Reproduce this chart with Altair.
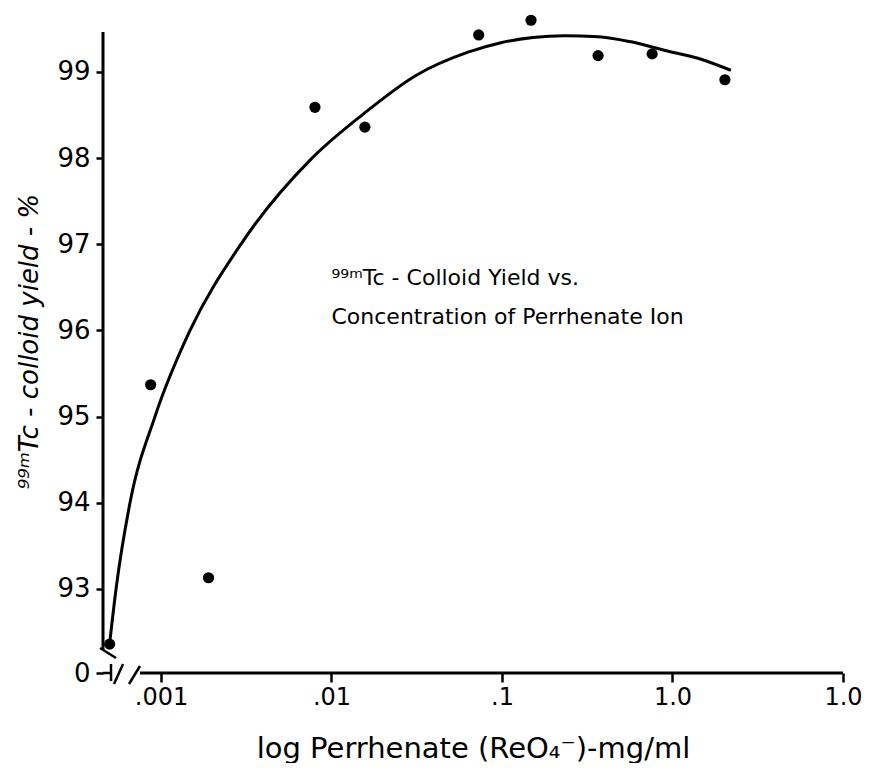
import altair as alt
import pandas as pd

# ---- data ----
point_conc = [0.00050, 0.00087, 0.0019, 0.0080, 0.0157, 0.073, 0.148, 0.366, 0.76, 2.03]
point_yield = [92.36, 95.37, 93.13, 98.59, 98.36, 99.43, 99.60, 99.19, 99.21, 98.91]

curve_conc = [0.000502, 0.000545, 0.000658, 0.000922, 0.00148, 0.00294, 0.00769,
              0.0151, 0.0313, 0.0632, 0.0986, 0.152, 0.234, 0.366, 0.571, 0.904,
              1.41, 2.20]
curve_yield = [92.40, 93.00, 94.00, 95.00, 96.00, 97.00, 98.00,
               98.50, 98.96, 99.23, 99.34, 99.40, 99.42, 99.41, 99.35, 99.25,
               99.16, 99.02]

x_tick_values = [0.001, 0.01, 0.1, 1.0, 10.0]
x_tick_labels = [".001", ".01", ".1", "1.0", "1.0"]
y_tick_values = [92.025, 93, 94, 95, 96, 97, 98, 99]
y_tick_labels = ["0", "93", "94", "95", "96", "97", "98", "99"]

note_lines = ["⁹⁹ᵐTc - Colloid Yield vs.", "Concentration of Perrhenate Ion"]
note_conc = [0.01, 0.01]
note_yield = [96.53, 96.08]

x_title = "log Perrhenate (ReO₄⁻)-mg/ml"
y_title = "⁹⁹ᵐTc - colloid yield - %"

# ---- layout / style ----
X_DOMAIN = [0.000457, 10]
Y_DOMAIN = [92.025, 99.464]
W, H = 740, 641
FONT = "DejaVu Sans"


def label_expr(values, labels, rel):
    expr = "''"
    for v, l in reversed(list(zip(values, labels))):
        tol = v * 1e-3 if rel else 0.01
        expr = f"(abs(datum.value - {v}) < {tol}) ? '{l}' : ({expr})"
    return expr


x_scale = alt.Scale(type="log", domain=X_DOMAIN, nice=False)
y_scale = alt.Scale(domain=Y_DOMAIN, nice=False, zero=False)

x_axis = alt.Axis(
    values=x_tick_values, labelExpr=label_expr(x_tick_values, x_tick_labels, True),
    domain=False, grid=False, tickSize=9, tickWidth=2.5, tickColor="black",
    labelFont=FONT, labelFontSize=24, labelColor="black", labelPadding=3,
    labelFlush=False, labelOverlap=False, labelBound=False,
    title=x_title, titleFont=FONT, titleFontSize=29, titleFontWeight="normal",
    titleColor="black", titleY=84, titleBaseline="alphabetic",
)
y_axis = alt.Axis(
    values=y_tick_values, labelExpr=label_expr(y_tick_values, y_tick_labels, False),
    domain=False, grid=False, tickSize=7, tickWidth=2.5, tickColor="black",
    labelFont=FONT, labelFontSize=26, labelColor="black", labelPadding=6,
    labelFlush=False, labelOverlap=False, labelBound=False,
    title=y_title, titleFont=FONT, titleFontSize=26, titleFontStyle="italic",
    titleFontWeight="normal", titleColor="black", titleX=-66, titleY=309,
    titleAngle=270, titleBaseline="alphabetic", titleAlign="center",
)

points_df = pd.DataFrame({"conc": point_conc, "yield": point_yield})
curve_df = pd.DataFrame({"conc": curve_conc, "yield": curve_yield})
notes_df = pd.DataFrame({"conc": note_conc, "yield": note_yield, "text": note_lines})

curve = alt.Chart(curve_df).mark_line(
    color="black", strokeWidth=3, interpolate="monotone"
).encode(
    x=alt.X("conc:Q", scale=x_scale, axis=x_axis),
    y=alt.Y("yield:Q", scale=y_scale, axis=y_axis),
)

points = alt.Chart(points_df).mark_circle(size=125, color="black", opacity=1).encode(
    x=alt.X("conc:Q", scale=x_scale),
    y=alt.Y("yield:Q", scale=y_scale),
)

notes = alt.Chart(notes_df).mark_text(
    align="left", baseline="alphabetic", font=FONT, fontSize=22, color="black"
).encode(
    x=alt.X("conc:Q", scale=x_scale),
    y=alt.Y("yield:Q", scale=y_scale),
    text="text:N",
)

# axis lines and break marks (decorations, pixel positions in the plot area)
segments = [
    (0, 0, 0, 618, 3),        # y axis line
    (-3, 616, 13, 626, 2.5),  # break on y axis
    (8, 632, 8, 649, 2.5),    # stub of y axis below break
    (0, 641, 8, 641, 2.5),    # extension of "0" tick
    (11, 652, 20, 632, 2.5),  # slash 1
    (26, 652, 37, 634, 2.5),  # slash 2
    (37, 641, 740, 641, 3),   # x axis line
]
deco = []
for x1, y1, x2, y2, sw in segments:
    deco.append(
        alt.Chart(alt.Data(values=[{}])).mark_rule(color="black", strokeWidth=sw).encode(
            x=alt.value(x1), y=alt.value(y1), x2=alt.value(x2), y2=alt.value(y2)
        )
    )

chart = alt.layer(curve, points, notes, *deco).properties(
    width=W, height=H,
    autosize=alt.AutoSizeParams(type="none"),
    padding={"left": 95, "top": 24, "right": 19, "bottom": 90},
    background="white",
).configure_view(stroke=None)

chart.save("out.html", embed_options={"renderer": "svg", "actions": False})
